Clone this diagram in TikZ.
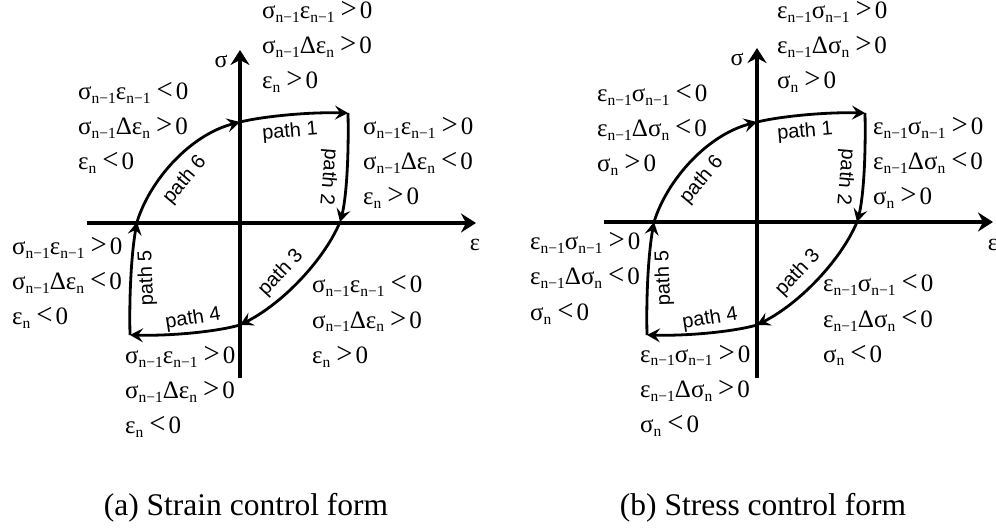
\documentclass[tikz,border=0pt]{standalone}
\usepackage{graphicx}
\usepackage{fontspec}
\setmainfont{Liberation Serif}
\newfontfamily\pathfont{Liberation Sans}
\usetikzlibrary{arrows.meta}
\newcommand{\sx}[1]{\raisebox{-4pt}{\fontsize{15.5}{15.5}\selectfont #1}}
\newcommand{\gtz}{\hspace{6pt}\scalebox{1.15}[1.2]{>}\hspace{3pt}0}
\newcommand{\ltz}{\hspace{6pt}\scalebox{1.15}[1.2]{<}\hspace{3pt}0}
\newcommand{\blk}[6]{%
  \node[lbl] (#1a) at (#2,#3) {#4};
  \node[lbl] (#1b) at (#2,#3+35) {#5};
  \node[lbl] (#1c) at (#2,#3+70) {#6};
}
\begin{document}
\begin{tikzpicture}[x=1pt,y=-1pt,
  lbl/.style={anchor=base west, inner sep=0pt, font=\fontsize{25}{25}\selectfont},
  axlbl/.style={inner sep=0pt, font=\fontsize{24}{24}\selectfont},
  plbl/.style={inner sep=0pt, font=\pathfont\fontsize{20}{20}\selectfont},
  axisline/.style={line width=3.2pt, -{Stealth[length=15pt,width=19pt,inset=5pt]}},
  crv/.style={line width=2.8pt, -{Stealth[length=13pt,width=14pt,inset=5pt]}},
  captxt/.style={anchor=base, inner sep=0pt, font=\fontsize{31.5}{31.5}\selectfont}
]
\useasboundingbox (0,0) rectangle (996,529);

% ---------------- (a) ----------------
\coordinate (aS0) at (240,378);
\coordinate (aS1) at (240,50);
\coordinate (aE0) at (87,223);
\coordinate (aE1) at (476,223);
\draw[axisline] (aS0) -- (aS1);
\draw[axisline] (aE0) -- (aE1);
\node[axlbl] (asig) at (221,61) {σ};
\node[axlbl] (aeps) at (475,245) {ε};

\coordinate (aA) at (240,122);
\coordinate (aB) at (348,113);
\coordinate (aC) at (340,222);
\coordinate (aD) at (240,325);
\coordinate (aE) at (130,335);
\coordinate (aF) at (137,222);
\draw[crv] (aA) .. controls (265,116) and (310,112) .. (aB);
\draw[crv] (aB) .. controls (349,160) and (346,200) .. (aC);
\draw[crv] (aC) .. controls (325,258) and (285,302) .. (aD);
\draw[crv] (aD) .. controls (215,332) and (170,336) .. (aE);
\draw[crv] (aE) .. controls (129,290) and (132,250) .. (aF);
\draw[crv] (aF) .. controls (150,180) and (190,135) .. (aA);

\node[plbl, rotate=5] (ap1) at (290,132) {path 1};
\node[plbl, rotate=-95] (ap2) at (328,177) {path 2};
\node[plbl, rotate=47] (ap3) at (281,273) {path 3};
\node[plbl, rotate=9] (ap4) at (193,319) {path 4};
\node[plbl, rotate=92] (ap5) at (147,278) {path 5};
\node[plbl, rotate=50] (ap6) at (185,180) {path 6};

\blk{at}{262}{19}{σ\sx{n−1}ε\sx{n−1}\gtz}{σ\sx{n−1}Δε\sx{n}\gtz}{ε\sx{n}\gtz}
\blk{aul}{78}{100}{σ\sx{n−1}ε\sx{n−1}\ltz}{σ\sx{n−1}Δε\sx{n}\gtz}{ε\sx{n}\ltz}
\blk{ar}{363}{135}{σ\sx{n−1}ε\sx{n−1}\gtz}{σ\sx{n−1}Δε\sx{n}\ltz}{ε\sx{n}\gtz}
\blk{all}{12}{255}{σ\sx{n−1}ε\sx{n−1}\gtz}{σ\sx{n−1}Δε\sx{n}\ltz}{ε\sx{n}\ltz}
\blk{alr}{312}{293}{σ\sx{n−1}ε\sx{n−1}\ltz}{σ\sx{n−1}Δε\sx{n}\gtz}{ε\sx{n}\gtz}
\blk{ab}{125}{363}{σ\sx{n−1}ε\sx{n−1}\gtz}{σ\sx{n−1}Δε\sx{n}\gtz}{ε\sx{n}\ltz}

\node[captxt] (capa) at (246,515) {(a) Strain control form};

% ---------------- (b) ----------------
\begin{scope}[shift={(517,0)}]
\coordinate (bS0) at (240,378);
\coordinate (bS1) at (240,48);
\coordinate (bE0) at (87,222);
\coordinate (bE1) at (476,222);
\draw[axisline] (bS0) -- (bS1);
\draw[axisline] (bE0) -- (bE1);
\node[axlbl] (bsig) at (220,59) {σ};
\node[axlbl] (beps) at (476,245) {ε};

\coordinate (bA) at (240,122);
\coordinate (bB) at (348,113);
\coordinate (bC) at (340,222);
\coordinate (bD) at (240,325);
\coordinate (bE) at (130,335);
\coordinate (bF) at (137,222);
\draw[crv] (bA) .. controls (265,116) and (310,112) .. (bB);
\draw[crv] (bB) .. controls (349,160) and (346,200) .. (bC);
\draw[crv] (bC) .. controls (325,258) and (285,302) .. (bD);
\draw[crv] (bD) .. controls (215,332) and (170,336) .. (bE);
\draw[crv] (bE) .. controls (129,290) and (132,250) .. (bF);
\draw[crv] (bF) .. controls (150,180) and (190,135) .. (bA);

\node[plbl, rotate=5] (bp1) at (288,132) {path 1};
\node[plbl, rotate=-95] (bp2) at (328,177) {path 2};
\node[plbl, rotate=47] (bp3) at (281,273) {path 3};
\node[plbl, rotate=9] (bp4) at (193,319) {path 4};
\node[plbl, rotate=92] (bp5) at (147,278) {path 5};
\node[plbl, rotate=50] (bp6) at (185,180) {path 6};
\end{scope}

\blk{bt}{777}{19}{ε\sx{n−1}σ\sx{n−1}\gtz}{ε\sx{n−1}Δσ\sx{n}\gtz}{σ\sx{n}\gtz}
\blk{bul}{597}{102}{ε\sx{n−1}σ\sx{n−1}\ltz}{ε\sx{n−1}Δσ\sx{n}\ltz}{σ\sx{n}\gtz}
\blk{br}{873}{135}{ε\sx{n−1}σ\sx{n−1}\gtz}{ε\sx{n−1}Δσ\sx{n}\ltz}{σ\sx{n}\gtz}
\blk{bll}{530}{250}{ε\sx{n−1}σ\sx{n−1}\gtz}{ε\sx{n−1}Δσ\sx{n}\ltz}{σ\sx{n}\ltz}
\blk{blr}{823}{292}{ε\sx{n−1}σ\sx{n−1}\ltz}{ε\sx{n−1}Δσ\sx{n}\ltz}{σ\sx{n}\ltz}
\blk{bb}{640}{362}{ε\sx{n−1}σ\sx{n−1}\gtz}{ε\sx{n−1}Δσ\sx{n}\gtz}{σ\sx{n}\ltz}

\node[captxt] (capb) at (763,515) {(b) Stress control form};
\end{tikzpicture}
\end{document}
